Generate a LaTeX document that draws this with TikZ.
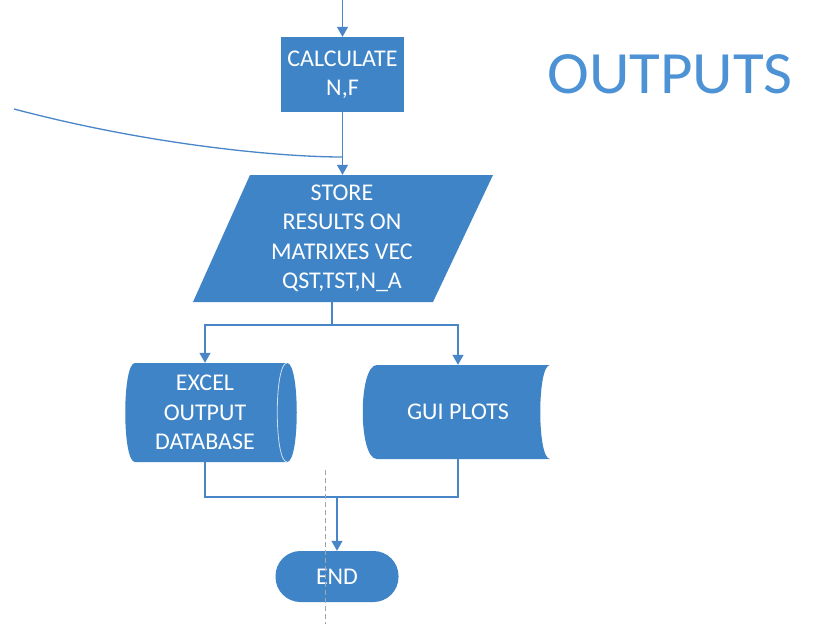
\documentclass[tikz,border=0pt]{standalone}
\usepackage{fontspec}
\setmainfont{Carlito}
\newfontfamily\titlefont[FakeStretch=1.05]{Carlito}
\usetikzlibrary{arrows.meta}
\definecolor{boxblue}{RGB}{62,132,198}
\definecolor{lineblue}{RGB}{72,134,200}
\definecolor{titleblue}{RGB}{76,146,212}
\begin{document}
\begin{tikzpicture}[x=1pt,y=-1pt,
  txt/.style={text=white, font=\fontsize{24}{29.5}\selectfont, align=center, inner sep=0pt},
  conn/.style={draw=lineblue, line width=1.3pt},
  arr/.style={conn, -{Triangle[width=11pt,length=10pt]}}]
\useasboundingbox[fill=white] (0,0) rectangle (823,624);

% title
\node[text=titleblue, font=\titlefont\fontsize{60}{70}\selectfont, inner sep=0pt] (title) at (670,74) {OUTPUTS};

% CALCULATE
\node[txt, fill=boxblue, minimum width=123pt, minimum height=75pt] (calc) at (342.5,74.5) {CALCULATE\\N,F};

% STORE parallelogram
\fill[boxblue] (250,175) -- (493,175) -- (433,302) -- (193,302) -- cycle;
\node[txt, minimum width=243pt, minimum height=127pt] (store) at (342,238.5) {STORE\\RESULTS ON\\MATRIXES VEC\\QST,TST,N\_A};

% EXCEL (horizontal cylinder)
\fill[boxblue] (135,363) -- (287,363) .. controls (300,363) and (300,462) .. (287,462) -- (135,462) .. controls (122,462) and (122,363) .. (135,363) -- cycle;
\draw[white!75!boxblue, line width=0.8pt] (287,363) .. controls (274,363) and (274,462) .. (287,462);
\node[txt, minimum width=150pt, minimum height=99pt] (excel) at (205,412.5) {EXCEL\\OUTPUT\\DATABASE};

% GUI PLOTS (stored data)
\fill[boxblue] (377,365) -- (550,365) .. controls (537,365) and (537,459) .. (550,459) -- (377,459) .. controls (358,459) and (358,365) .. (377,365) -- cycle;
\node[txt, minimum width=150pt, minimum height=94pt] (gui) at (458,412) {GUI PLOTS};

% END
\node[txt, fill=boxblue, rounded corners=25pt, minimum width=123pt, minimum height=51pt] (end) at (337,576.5) {END};

% connectors
\coordinate (topin) at (342.5,0);
\draw[arr] (topin) -- (calc.north);
\draw[arr] (calc.south) -- (calc.south |- store.north);
\coordinate (curvestart) at (14,109);
\coordinate (merge) at (342.5,157);
\draw[conn] (curvestart) .. controls (150,145) and (280,157) .. (merge);

\coordinate (split) at (332,325);
\draw[conn] (store.south -| split) -- (split);
\draw[arr] (split) -| (excel.north);
\draw[arr] (split) -| (gui.north);

\coordinate (join) at (337,497);
\draw[conn] (excel.south) |- (join);
\draw[conn] (gui.south) |- (join);
\draw[arr] (join) -- (end.north);

% dashed guide
\draw[gray!70, line width=0.6pt, dash pattern=on 5pt off 3pt] (325,470) -- (325,624);
\end{tikzpicture}
\end{document}
